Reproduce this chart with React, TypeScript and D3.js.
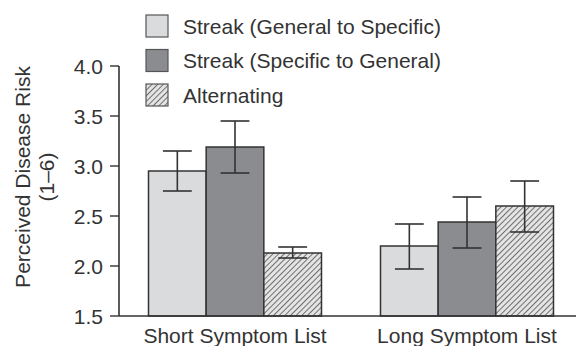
import React from "react";
import * as d3 from "d3";

const categories = ["Short Symptom List", "Long Symptom List"];
const seriesNames = [
  "Streak (General to Specific)",
  "Streak (Specific to General)",
  "Alternating",
];
// means per category, one array per series
const generalToSpecific = [2.95, 2.2];
const specificToGeneral = [3.19, 2.44];
const alternating = [2.13, 2.6];
// error bar low / high
const errLow = [
  [2.75, 1.97],
  [2.93, 2.18],
  [2.08, 2.34],
];
const errHigh = [
  [3.15, 2.42],
  [3.45, 2.69],
  [2.19, 2.85],
];
const yTicks = [1.5, 2.0, 2.5, 3.0, 3.5, 4.0];

const W = 576;
const H = 346;
const font = "'Liberation Sans', Arial, Helvetica, sans-serif";
const ink = "#333";

const App = () => {
  const values = [generalToSpecific, specificToGeneral, alternating];
  const fills = ["#dadbdd", "#8b8c8f", "url(#hatch)"];

  const y = d3.scaleLinear().domain([1.5, 4.0]).range([316, 66]);
  const x0 = d3.scaleBand().domain(categories).range([119, 583]);
  const inner = 173;
  const x1 = d3
    .scaleBand()
    .domain(seriesNames)
    .range([(x0.bandwidth() - inner) / 2, (x0.bandwidth() + inner) / 2]);
  const bw = x1.bandwidth();

  return (
    <svg
      width={W}
      height={H}
      style={{ position: "absolute", left: 0, top: 0, background: "#fff" }}
      fontFamily={font}
    >
      <defs>
        <pattern
          id="hatch"
          width={4}
          height={4}
          patternUnits="userSpaceOnUse"
          patternTransform="rotate(45)"
        >
          <rect width={4} height={4} fill="#e4e4e4" />
          <line x1={0} y1={0} x2={0} y2={4} stroke="#6f6f6f" strokeWidth={2} />
        </pattern>
      </defs>

      {/* bars */}
      {seriesNames.map((s, si) =>
        categories.map((c, ci) => {
          const bx = (x0(c) ?? 0) + (x1(s) ?? 0);
          const v = values[si][ci];
          return (
            <rect
              key={s + c}
              x={bx}
              y={y(v)}
              width={bw}
              height={y(1.5) - y(v)}
              fill={fills[si]}
              stroke={ink}
              strokeWidth={1.5}
            />
          );
        })
      )}

      {/* error bars */}
      {seriesNames.map((s, si) =>
        categories.map((c, ci) => {
          const cx = (x0(c) ?? 0) + (x1(s) ?? 0) + bw / 2;
          const lo = y(errLow[si][ci]);
          const hi = y(errHigh[si][ci]);
          const cap = bw / 4;
          return (
            <g key={"e" + s + c} stroke={ink} strokeWidth={1.6}>
              <line x1={cx} x2={cx} y1={lo} y2={hi} />
              <line x1={cx - cap} x2={cx + cap} y1={lo} y2={lo} />
              <line x1={cx - cap} x2={cx + cap} y1={hi} y2={hi} />
            </g>
          );
        })
      )}

      {/* y axis */}
      <line x1={119} x2={119} y1={y(4.0)} y2={y(1.5)} stroke={ink} strokeWidth={1.6} />
      {yTicks.map((t) => (
        <g key={t}>
          <line x1={110} x2={119} y1={y(t)} y2={y(t)} stroke={ink} strokeWidth={1.4} />
          <text
            x={103}
            y={y(t)}
            dy="0.36em"
            textAnchor="end"
            fontSize={21}
            fill={ink}
          >
            {t.toFixed(1)}
          </text>
        </g>
      ))}

      {/* x axis */}
      <line x1={119} x2={W} y1={y(1.5)} y2={y(1.5)} stroke={ink} strokeWidth={1.6} />
      {categories.map((c) => (
        <text
          key={c}
          x={(x0(c) ?? 0) + x0.bandwidth() / 2}
          y={343}
          textAnchor="middle"
          fontSize={21}
          fill={ink}
        >
          {c}
        </text>
      ))}

      {/* y title */}
      <g transform="translate(0,177) rotate(-90)" fill={ink} fontSize={21}>
        <text x={0} y={30} textAnchor="middle">
          Perceived Disease Risk
        </text>
        <text x={0} y={54} textAnchor="middle">
          (1–6)
        </text>
      </g>

      {/* legend */}
      {seriesNames.map((s, i) => (
        <g key={"l" + s} transform={`translate(146,${15 + i * 34.5})`}>
          <rect
            x={0}
            y={0}
            width={22}
            height={22}
            fill={fills[i]}
            stroke="#555"
            strokeWidth={1.2}
          />
          <text x={37} y={11} dy="0.36em" fontSize={21} fill={ink}>
            {s}
          </text>
        </g>
      ))}
    </svg>
  );
};

export default App;
